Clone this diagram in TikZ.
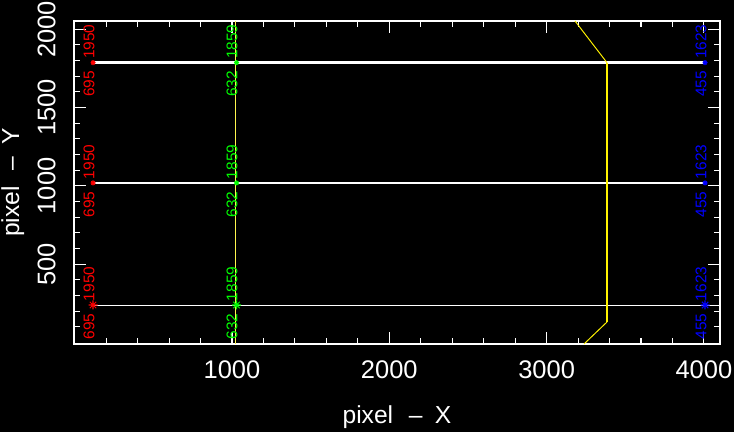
\documentclass[tikz,border=0pt]{standalone}
\usepackage{fontspec}
\setmainfont{Liberation Sans}

\begin{document}
\begin{tikzpicture}[x=0.02cm,y=-0.02cm]
	\tikzstyle{frame}=[draw=white, line width=0.6pt]
	\tikzstyle{tick}=[draw=white, line width=0.6pt]
	\tikzstyle{ticklbl}=[white, inner sep=0pt, font=\fontsize{14.5}{15}\selectfont]
	\tikzstyle{axlbl}=[white, inner sep=0pt, font=\fontsize{14}{15}\selectfont]
	\tikzstyle{ptlbl}=[inner sep=0pt, rotate=90, font=\fontsize{8.8}{9}\selectfont]
	\tikzstyle{rowthick}=[white, line width=1.4pt]
	\tikzstyle{rowthin}=[white, line width=0.55pt]
	\tikzset{astx/.pic={\draw[line width=0.6pt] (-1,0) -- (1,0) (-0.7,-0.7) -- (0.7,0.7) (-0.7,0.7) -- (0.7,-0.7) (0,-1) -- (0,1);}}
	% background and frame
	\fill[black] (0,0) rectangle (734,432);
	\draw[frame] (74,21) rectangle (720,344);
	% ticks
	\foreach \v in {100,200,...,2000}{
		\pgfmathsetmacro\yy{342.6-0.1567*\v}
		\pgfmathsetmacro\tl{6+6*(mod(\v,500)==0)}
		\draw[tick] (74,\yy) -- ++(\tl,0) (720,\yy) -- ++(-\tl,0);
	}
	\foreach \v in {200,400,...,4000}{
		\pgfmathsetmacro\xx{74.7+0.1573*\v}
		\pgfmathsetmacro\tl{6+6*(mod(\v,1000)==0)}
		\draw[tick] (\xx,344) -- ++(0,-\tl) (\xx,21) -- ++(0,\tl);
	}
	\foreach \v in {500,1000,1500,2000}
		\node[ticklbl, rotate=90] (yl\v) at (46.5,{342.6-0.1567*\v}) {\v};
	\foreach \v in {1000,2000,3000,4000}
		\node[ticklbl] (xl\v) at ({74.7+0.1573*\v},370) {\v};
	\node[axlbl, anchor=base] (xlab) at (397,423) {pixel\hspace{9pt}–\hspace{7pt}X};
	\node[axlbl, anchor=base, rotate=90] (ylab) at (19,182.5) {pixel\hspace{9pt}–\hspace{7pt}Y};
	% points
	\coordinate (r1) at (93,62.7);  \coordinate (g1) at (236.5,62.7); \coordinate (b1) at (705,62.7);
	\coordinate (r2) at (93,183);   \coordinate (g2) at (236.5,183);  \coordinate (b2) at (705,183);
	\coordinate (r3) at (93,305);   \coordinate (g3) at (236.5,305);  \coordinate (b3) at (705,305);
	\coordinate (e3) at (720,305);
	\coordinate (gt) at (235,21);   \coordinate (gb) at (235,344);
	\coordinate (ya) at (575,21);   \coordinate (yb) at (607,62.7);
	\coordinate (yc) at (607,322);  \coordinate (yd) at (584,344);
	% lines
	\draw[yellow!70!white, line width=0.45pt] (gt) -- (gb);
	\draw[rowthick] (r1) -- (b1);
	\draw[rowthick] (r2) -- (b2);
	\draw[rowthin] (r3) -- (e3);
	\draw[yellow, line width=0.55pt] (ya) -- (yb);
	\draw[yellow, line width=1.5pt] (yb) -- (yc);
	\draw[yellow, line width=0.55pt] (yc) -- (yd);
	% markers
	\foreach \p/\c/\s in {r1/red/2.5, r2/red/2.5, r3/red/4.5, g1/green/2.5, g2/green/2.5, g3/green/4.5, b1/blue/2.5, b2/blue/2.5, b3/blue/4.5}
		\pic[\c, scale=\s] at (\p) {astx};
	% labels
	\foreach \n/\y in {1/60.7, 2/181, 3/303}{
		\node[ptlbl, red] (rl\n) at (89,\y) {695\hspace{7pt}1950};
		\node[ptlbl, green] (gl\n) at (232,\y) {632\hspace{7pt}1859};
		\node[ptlbl, blue] (bl\n) at (701,\y) {455\hspace{7pt}1623};
	}
\end{tikzpicture}
\end{document}
